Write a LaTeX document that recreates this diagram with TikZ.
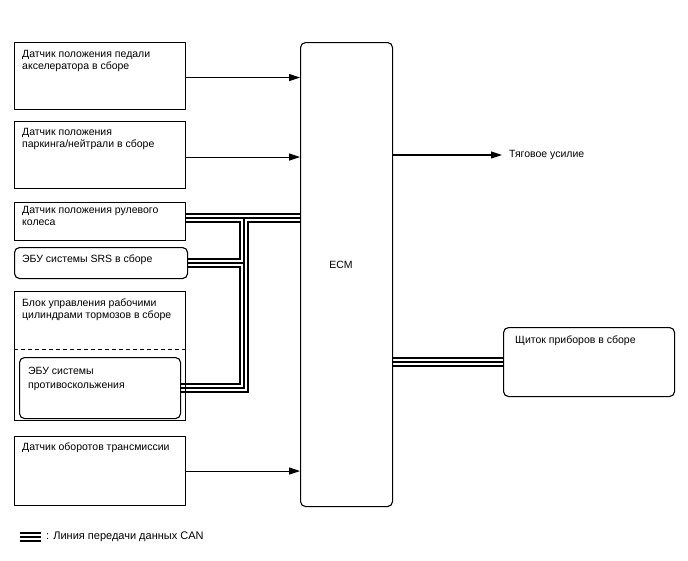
\documentclass[tikz,border=0pt]{standalone}
\usepackage{fontspec}
\setmainfont{Liberation Sans}
\usetikzlibrary{arrows.meta}
\pgfdeclarelayer{bg}
\pgfsetlayers{bg,main}
\newcommand\mycanpaths[1]{%
  \draw[#1] (b3.east |- j1) -- (ecm.west |- j1);
  \draw[#1] (srs.east) -- (srs.east -| j1);
  \draw[#1] (abs.east) -- (abs.east -| j1) -- (j1);
  \draw[#1] (ecm.east |- ib.west) -- (ib.west);
  \draw[#1] (lg1) -- (lg2);
}
\begin{document}
\begin{tikzpicture}[x=1pt,y=-1pt,
  box/.style={draw, line width=1.1pt, anchor=north west, inner sep=0pt},
  rbox/.style={box, rounded corners=5pt},
  txt/.style={anchor=north west, align=left, inner sep=0pt, font=\fontsize{10.5}{12}\selectfont},
  arr/.style={line width=1.1pt, -{Triangle[length=11pt,width=7pt]}},
  canA/.style={line width=9.5pt, black},
  canB/.style={line width=6pt, white},
  canC/.style={line width=1.8pt, black}]
\useasboundingbox (0,0) rectangle (688,560);
% boxes
\node[box, minimum width=171pt, minimum height=67pt] (b1) at (14,42) {};
\node[txt] (t1) at (22,50) {Датчик положения педали\\акселератора в сборе};
\node[box, minimum width=171pt, minimum height=67pt] (b2) at (14,121) {};
\node[txt] (t2) at (22,128) {Датчик положения\\паркинга/нейтрали в сборе};
\node[box, minimum width=171pt, minimum height=38pt] (b3) at (14,202) {};
\node[txt] (t3) at (22,206) {Датчик положения рулевого\\колеса};
\node[rbox, minimum width=173pt, minimum height=31pt] (srs) at (14,247) {};
\node[txt] (t4) at (22,255) {ЭБУ системы SRS в сборе};
\node[box, minimum width=171pt, minimum height=129pt] (b5) at (14,291) {};
\node[txt] (t5) at (22,299) {Блок управления рабочими\\цилиндрами тормозов в сборе};
\coordinate (d1) at (14,349);
\draw[line width=1pt, dash pattern=on 4pt off 3pt] (d1) -- (d1 -| b5.east);
\node[rbox, minimum width=161pt, minimum height=61pt] (abs) at (19,357) {};
\node[txt, font=\fontsize{10.5}{14}\selectfont] (t6) at (28,367) {ЭБУ системы\\противоскольжения};
\node[box, minimum width=171pt, minimum height=69pt] (b6) at (14,436) {};
\node[txt] (t7) at (22,443) {Датчик оборотов трансмиссии};
\node[rbox, minimum width=92pt, minimum height=464pt] (ecm) at (300,42) {};
\node[txt, anchor=center] (tecm) at (341,265) {ECM};
\node[rbox, minimum width=171pt, minimum height=69pt] (ib) at (503,327) {};
\node[txt] (t8) at (515,336) {Щиток приборов в сборе};
\node[txt, anchor=west] (tr) at (509,155) {Тяговое усилие};
\node[txt, anchor=west, font=\fontsize{11}{13}\selectfont] (lgt) at (46,537) {: Линия передачи данных CAN};
% arrows
\draw[arr] ([yshift=-1.5pt]b1.east) -- ([yshift=-1.5pt]ecm.west |- b1.east);
\draw[arr] ([yshift=-2pt]b2.east) -- ([yshift=-2pt]ecm.west |- b2.east);
\draw[arr] (b6.east) -- (ecm.west |- b6.east);
\draw[arr] (ecm.east |- tr.west) -- ([xshift=-7pt]tr.west);
% CAN lines
\coordinate (j1) at (244,218);
\coordinate (lg1) at (20,537);
\coordinate (lg2) at (41,537);
\begin{pgfonlayer}{bg}
\mycanpaths{canA}
\mycanpaths{canB}
\mycanpaths{canC}
\end{pgfonlayer}
\end{tikzpicture}
\end{document}
